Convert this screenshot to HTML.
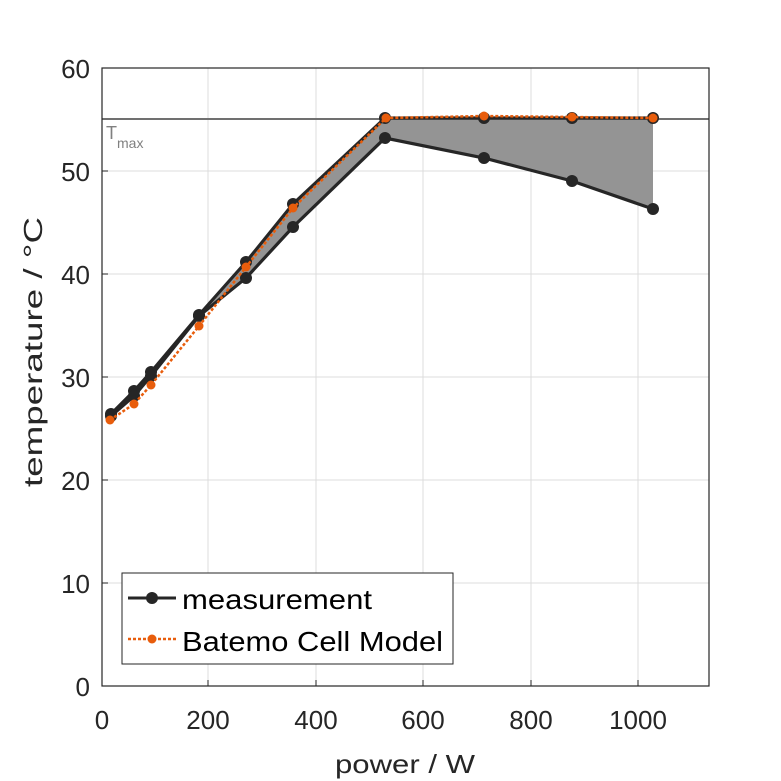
<!DOCTYPE html>
<html><head><meta charset="utf-8"><style>body{margin:0;background:#fff}svg{display:block}</style></head><body>
<svg width="781" height="781" viewBox="0 0 781 781" xmlns="http://www.w3.org/2000/svg" font-family="'Liberation Sans', sans-serif">
<rect width="781" height="781" fill="#fff"/>
<g stroke="#dcdcdc" stroke-width="1">
<line x1="208" y1="68" x2="208" y2="686"/><line x1="316" y1="68" x2="316" y2="686"/><line x1="423" y1="68" x2="423" y2="686"/><line x1="531" y1="68" x2="531" y2="686"/><line x1="638" y1="68" x2="638" y2="686"/>
<line x1="102" y1="583" x2="709" y2="583"/><line x1="102" y1="480" x2="709" y2="480"/><line x1="102" y1="377" x2="709" y2="377"/><line x1="102" y1="274" x2="709" y2="274"/><line x1="102" y1="171" x2="709" y2="171"/>
</g>
<polygon points="111,414 134,391 151,372 199,315 246,262 293,204 385,118 484,118 572,118 653,118 653,209 572,181 484,158 385,138 293,227 246,278 199,316 151,376 134,396 111,416" fill="#949494"/>
<line x1="102" y1="119" x2="709" y2="119" stroke="#707070" stroke-width="2"/>
<text x="106" y="139" font-size="18" fill="#808080">T</text><text x="117" y="148" font-size="14" fill="#808080">max</text>
<g stroke="#262626" stroke-width="3.2" fill="none">
<polyline points="111,414 134,391 151,372 199,315 246,262 293,204 385,118 484,118 572,118 653,118"/>
<polyline points="111,416 134,396 151,376 199,316 246,278 293,227 385,138 484,158 572,181 653,209"/>
</g>
<g fill="#262626">
<circle cx="111" cy="414" r="6"/><circle cx="134" cy="391" r="6"/><circle cx="151" cy="372" r="6"/><circle cx="199" cy="315" r="6"/><circle cx="246" cy="262" r="6"/><circle cx="293" cy="204" r="6"/><circle cx="385" cy="118" r="6"/><circle cx="484" cy="118" r="6"/><circle cx="572" cy="118" r="6"/><circle cx="653" cy="118" r="6"/>
<circle cx="111" cy="416" r="6"/><circle cx="134" cy="396" r="6"/><circle cx="151" cy="376" r="6"/><circle cx="199" cy="316" r="6"/><circle cx="246" cy="278" r="6"/><circle cx="293" cy="227" r="6"/><circle cx="385" cy="138" r="6"/><circle cx="484" cy="158" r="6"/><circle cx="572" cy="181" r="6"/><circle cx="653" cy="209" r="6"/>
</g>
<polyline points="110,420 134,404 151,385 199,326 246,267 293,208 386,118 484,116 572,117 653,118" fill="none" stroke="#e85d0c" stroke-width="2.5" stroke-dasharray="3,2"/>
<g fill="#e85d0c">
<circle cx="110" cy="420" r="4.5"/><circle cx="134" cy="404" r="4.5"/><circle cx="151" cy="385" r="4.5"/><circle cx="199" cy="326" r="4.5"/><circle cx="246" cy="267" r="4.5"/><circle cx="293" cy="208" r="4.5"/><circle cx="386" cy="118" r="4.5"/><circle cx="484" cy="116" r="4.5"/><circle cx="572" cy="117" r="4.5"/><circle cx="653" cy="118" r="4.5"/>
</g>
<rect x="102" y="68" width="607" height="618" fill="none" stroke="#262626" stroke-width="1.2"/>
<g stroke="#262626" stroke-width="1">
<line x1="208" y1="686" x2="208" y2="680"/><line x1="316" y1="686" x2="316" y2="680"/><line x1="423" y1="686" x2="423" y2="680"/><line x1="531" y1="686" x2="531" y2="680"/><line x1="638" y1="686" x2="638" y2="680"/>
<line x1="102" y1="583" x2="108" y2="583"/><line x1="102" y1="480" x2="108" y2="480"/><line x1="102" y1="377" x2="108" y2="377"/><line x1="102" y1="274" x2="108" y2="274"/><line x1="102" y1="171" x2="108" y2="171"/>
</g>
<g font-size="26" fill="#262626" text-anchor="middle">
<text x="102" y="729">0</text><text x="208" y="729">200</text><text x="316" y="729">400</text><text x="423" y="729">600</text><text x="531" y="729">800</text><text x="638" y="729">1000</text>
<text x="405" y="773" textLength="140" lengthAdjust="spacingAndGlyphs">power / W</text>
</g>
<g font-size="26" fill="#262626" text-anchor="end">
<text x="90" y="696">0</text><text x="90" y="593">10</text><text x="90" y="490">20</text><text x="90" y="387">30</text><text x="90" y="284">40</text><text x="90" y="181">50</text><text x="90" y="78">60</text>
</g>
<text transform="translate(42,352) rotate(-90)" font-size="26" fill="#262626" text-anchor="middle" textLength="270" lengthAdjust="spacingAndGlyphs">temperature / °C</text>
<rect x="122" y="573" width="331" height="91" fill="#fff" stroke="#262626" stroke-width="1"/>
<line x1="128" y1="598" x2="176" y2="598" stroke="#262626" stroke-width="3"/><circle cx="152" cy="598" r="6" fill="#262626"/>
<line x1="128" y1="639" x2="176" y2="639" stroke="#e85d0c" stroke-width="2.5" stroke-dasharray="3,2"/><circle cx="152" cy="639" r="4.5" fill="#e85d0c"/>
<text x="182" y="609" font-size="28" fill="#000" textLength="190" lengthAdjust="spacingAndGlyphs">measurement</text>
<text x="182" y="651" font-size="28" fill="#000" textLength="261" lengthAdjust="spacingAndGlyphs">Batemo Cell Model</text>
</svg>
</body></html>
